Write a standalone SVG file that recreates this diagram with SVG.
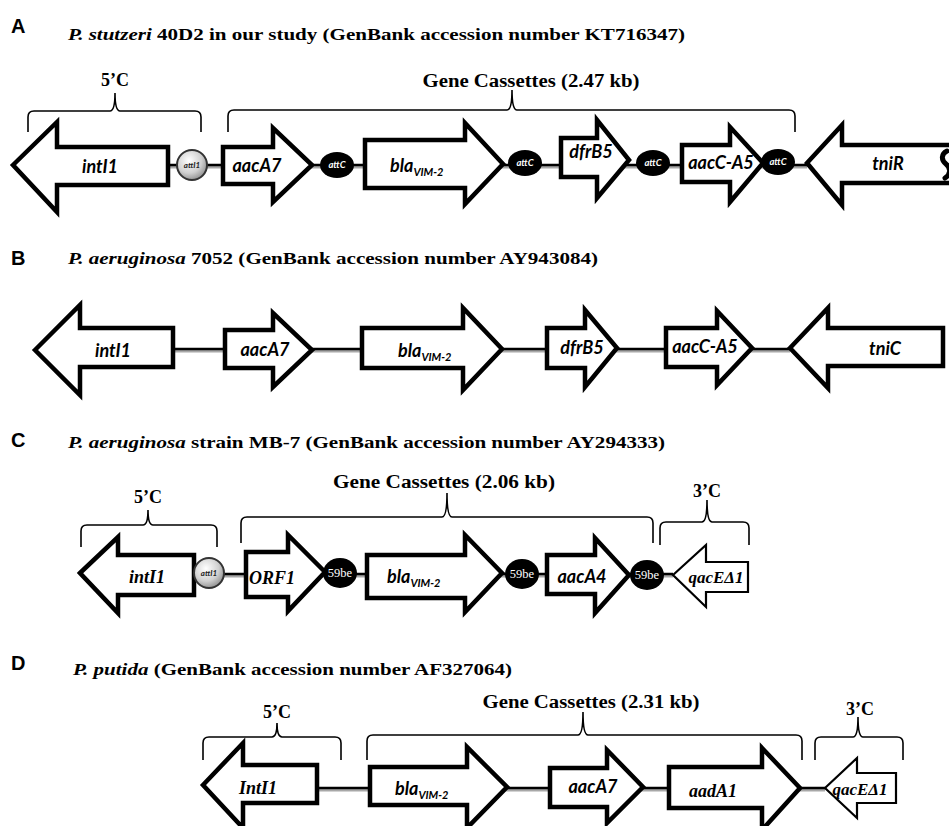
<svg xmlns="http://www.w3.org/2000/svg" width="949" height="826" viewBox="0 0 949 826">
<defs>
<radialGradient id="gAtt" cx="0.4" cy="0.35" r="0.7">
<stop offset="0" stop-color="#ffffff"/>
<stop offset="0.6" stop-color="#d0d0d0"/>
<stop offset="1" stop-color="#8a8a8a"/>
</radialGradient>
<style>
.gene{fill:#fff;stroke:#000;stroke-width:4.5;stroke-linejoin:miter;stroke-miterlimit:10}
.thin{stroke-width:2.2}
.lbl{font-family:Lato,"Open Sans",sans-serif;font-weight:bold;font-style:italic;font-size:18px;text-anchor:middle;fill:#000}
.lbs{font-family:Lato,"Open Sans",sans-serif;font-weight:bold;font-style:italic;font-size:18px;fill:#000}
.sub{font-size:11px}
.slbl{font-family:"Liberation Serif",serif;font-weight:bold;font-style:italic;font-size:18px;text-anchor:middle;fill:#000}
.qac{font-family:"Liberation Serif",serif;font-style:italic;font-weight:bold;font-size:17px;text-anchor:middle;fill:#000}
.title{font-family:"Liberation Serif",serif;font-weight:bold;font-size:17px;fill:#000}
.it{font-style:italic}
.panel{font-family:"Liberation Sans",Arial,sans-serif;font-weight:bold;font-size:20px;fill:#000}
.brace{fill:none;stroke:#000;stroke-width:1.6}
.btxt{font-family:"Liberation Serif",serif;font-weight:bold;font-size:18px;text-anchor:middle;fill:#000}
.bk{stroke:#000;stroke-width:2.5}
.bksh{stroke:#a8a8a8;stroke-width:3}
.attc{fill:#000}
.attct{font-family:Lato,"Open Sans",sans-serif;font-weight:bold;font-style:italic;font-size:9.5px;fill:#fff;text-anchor:middle}
.atti{fill:url(#gAtt);stroke:#333;stroke-width:2}
.attit{font-family:Lato,"Open Sans",sans-serif;font-weight:bold;font-style:italic;font-size:8px;fill:#222;text-anchor:middle}
.be{font-family:"Liberation Serif",serif;font-size:12.5px;fill:#fff;text-anchor:middle}
</style>
</defs>
<rect width="949" height="826" fill="#fff"/>

<!-- Panel letters and titles -->
<g id="panelA-title">
<text class="panel" x="11" y="33">A</text>
<text class="title" x="68" y="40" textLength="617" lengthAdjust="spacingAndGlyphs"><tspan class="it">P. stutzeri</tspan> 40D2 in our study (GenBank accession number KT716347)</text>
</g>
<g id="panelB-title">
<text class="panel" x="11" y="265">B</text>
<text class="title" x="68" y="264" textLength="530" lengthAdjust="spacingAndGlyphs"><tspan class="it">P. aeruginosa</tspan> 7052 (GenBank accession number AY943084)</text>
</g>
<g id="panelC-title">
<text class="panel" x="11" y="447">C</text>
<text class="title" x="68" y="448" textLength="597" lengthAdjust="spacingAndGlyphs"><tspan class="it">P. aeruginosa</tspan> strain MB-7 (GenBank accession number AY294333)</text>
</g>
<g id="panelD-title">
<text class="panel" x="11" y="670">D</text>
<text class="title" x="73" y="675" textLength="439" lengthAdjust="spacingAndGlyphs"><tspan class="it">P. putida</tspan> (GenBank accession number AF327064)</text>
</g>

<!-- Connectors (backbone lines) -->
<g id="connectors">
<line class="bksh" x1="168" y1="167" x2="807" y2="167"/>
<line class="bk" x1="168" y1="165" x2="807" y2="165"/>
<line class="bksh" x1="173" y1="351" x2="790" y2="351"/>
<line class="bk" x1="173" y1="349" x2="790" y2="349"/>
<line class="bksh" x1="194" y1="576" x2="673" y2="576"/>
<line class="bk" x1="194" y1="574" x2="673" y2="574"/>
<line class="bksh" x1="317" y1="790" x2="825" y2="790"/>
<line class="bk" x1="317" y1="788" x2="825" y2="788"/>
</g>

<!-- Braces -->
<g id="braceA-5C">
<path class="brace" d="M28,132 L28,117 Q28,111 34,111 L110,111 Q115,111 115,93 Q115,111 120,111 L195,111 Q201,111 201,117 L201,132"/>
<text class="btxt" x="115" y="86">5’C</text>
</g>
<g id="braceA-GC">
<path class="brace" d="M228,132 L228,116 Q228,110 234,110 L507,110 Q512,110 512,90 Q512,110 517,110 L789,110 Q795,110 795,116 L795,132"/>
<text class="btxt" x="531" y="87" textLength="217" lengthAdjust="spacingAndGlyphs">Gene Cassettes (2.47 kb)</text>
</g>
<g id="braceC-5C">
<path class="brace" d="M81,547 L81,531 Q81,525 87,525 L143,525 Q148,525 148,510 Q148,525 153,525 L211,525 Q217,525 217,531 L217,547"/>
<text class="btxt" x="148" y="503">5’C</text>
</g>
<g id="braceC-GC">
<path class="brace" d="M241,543 L241,523 Q241,517 247,517 L442,517 Q447,517 447,493 Q447,517 452,517 L647,517 Q653,517 653,523 L653,543"/>
<text class="btxt" x="444" y="488" textLength="222" lengthAdjust="spacingAndGlyphs">Gene Cassettes (2.06 kb)</text>
</g>
<g id="braceC-3C">
<path class="brace" d="M660,545 L660,528 Q660,522 666,522 L702,522 Q707,522 707,500 Q707,522 712,522 L743,522 Q749,522 749,528 L749,545"/>
<text class="btxt" x="707" y="497">3’C</text>
</g>
<g id="braceD-5C">
<path class="brace" d="M203,760 L203,743 Q203,737 209,737 L272,737 Q277,737 277,723 Q277,737 282,737 L335,737 Q341,737 341,743 L341,760"/>
<text class="btxt" x="277" y="718">5’C</text>
</g>
<g id="braceD-GC">
<path class="brace" d="M367,760 L367,741 Q367,735 373,735 L578,735 Q583,735 583,712 Q583,735 588,735 L796,735 Q802,735 802,741 L802,760"/>
<text class="btxt" x="591" y="708" textLength="217" lengthAdjust="spacingAndGlyphs">Gene Cassettes (2.31 kb)</text>
</g>
<g id="braceD-3C">
<path class="brace" d="M815,760 L815,743 Q815,737 821,737 L853,737 Q858,737 858,717 Q858,737 863,737 L897,737 Q903,737 903,743 L903,760"/>
<text class="btxt" x="860" y="715">3’C</text>
</g>

<!-- Panel A genes -->
<g id="A-intI1">
<polygon class="gene" points="13,165 57,122 57,147 168,147 168,185 57,185 57,212"/>
<text class="lbl" x="100" y="173">intI1</text>
</g>
<g id="A-attI1">
<circle class="atti" cx="192" cy="165" r="15"/>
<text class="attit" x="192" y="168">attI1</text>
</g>
<g id="A-aacA7">
<polygon class="gene" points="223,147 273,147 273,128 312,165 273,202 273,184 223,184"/>
<text class="lbl" x="257" y="172">aacA7</text>
</g>
<g id="A-attC1">
<ellipse class="attc" cx="337" cy="165" rx="17" ry="13"/>
<text class="attct" x="337" y="168">attC</text>
</g>
<g id="A-bla">
<polygon class="gene" points="365,140 465,140 465,123 503,164 465,204 465,188 365,188"/>
<text class="lbs" x="390" y="172">bla<tspan class="sub" dy="4">VIM-2</tspan></text>
</g>
<g id="A-attC2">
<ellipse class="attc" cx="525" cy="163" rx="17" ry="13"/>
<text class="attct" x="525" y="166">attC</text>
</g>
<g id="A-dfrB5">
<polygon class="gene" points="561,138 597,138 597,120 629,160 597,198 597,177 561,177"/>
<text class="lbl" x="591" y="158">dfrB5</text>
</g>
<g id="A-attC3">
<ellipse class="attc" cx="653" cy="163" rx="17" ry="13"/>
<text class="attct" x="653" y="166">attC</text>
</g>
<g id="A-aacC-A5">
<polygon class="gene" points="682,145 730,145 730,127 763,163 730,202 730,182 682,182"/>
<text class="lbl" x="721" y="169" font-size="17">aacC-A5</text>
</g>
<g id="A-attC4">
<ellipse class="attc" cx="778" cy="162" rx="17" ry="13"/>
<text class="attct" x="778" y="165">attC</text>
</g>
<g id="A-tniR">
<polygon class="gene" points="807,163 842,125 842,145 962,145 962,183 842,183 842,205"/>
<text class="lbl" x="888" y="170">tniR</text>
<path d="M947,151 C941,154 941,160 946,164 C951,168 951,174 945,178" fill="none" stroke="#000" stroke-width="5" stroke-linecap="round"/>
</g>

<!-- Panel B genes -->
<g id="B-intI1">
<polygon class="gene" points="35,350 80,305 80,328 173,328 173,367 80,367 80,395"/>
<text class="lbl" x="113" y="357">intI1</text>
</g>
<g id="B-aacA7">
<polygon class="gene" points="225,330 273,330 273,313 312,350 273,387 273,368 225,368"/>
<text class="lbl" x="265" y="356">aacA7</text>
</g>
<g id="B-bla">
<polygon class="gene" points="362,328 463,328 463,308 502,349 463,390 463,368 362,368"/>
<text class="lbs" x="398" y="357">bla<tspan class="sub" dy="4">VIM-2</tspan></text>
</g>
<g id="B-dfrB5">
<polygon class="gene" points="547,328 585,328 585,310 617,348 585,387 585,368 547,368"/>
<text class="lbl" x="582" y="354">dfrB5</text>
</g>
<g id="B-aacC-A5">
<polygon class="gene" points="666,328 717,328 717,311 752,348 717,385 717,367 666,367"/>
<text class="lbl" x="705" y="353" font-size="17">aacC-A5</text>
</g>
<g id="B-tniC">
<polygon class="gene" points="790,348 828,308 828,328 943,328 943,366 828,366 828,388"/>
<text class="lbl" x="885" y="355">tniC</text>
</g>

<!-- Panel C genes -->
<g id="C-intI1">
<polygon class="gene" points="80,573 118,537 118,555 194,555 194,595 118,595 118,613"/>
<text class="slbl" x="147" y="583">intI1</text>
</g>
<g id="C-attI1">
<circle class="atti" cx="209" cy="573" r="15"/>
<text class="attit" x="209" y="576">attI1</text>
</g>
<g id="C-ORF1">
<polygon class="gene" points="246,552 288,552 288,535 325,572 288,611 288,597 246,597"/>
<text class="slbl" x="272" y="584">ORF1</text>
</g>
<g id="C-59be1">
<ellipse class="attc" cx="340" cy="573" rx="17" ry="15"/>
<text class="be" x="340" y="577">59be</text>
</g>
<g id="C-bla">
<polygon class="gene" points="367,555 465,555 465,535 502,573 465,612 465,598 367,598"/>
<text class="lbs" x="387" y="583">bla<tspan class="sub" dy="4">VIM-2</tspan></text>
</g>
<g id="C-59be2">
<ellipse class="attc" cx="522" cy="574" rx="17" ry="15"/>
<text class="be" x="522" y="578">59be</text>
</g>
<g id="C-aacA4">
<polygon class="gene" points="547,555 595,555 595,538 629,575 595,613 595,594 547,594"/>
<text class="lbl" x="582" y="583">aacA4</text>
</g>
<g id="C-59be3">
<ellipse class="attc" cx="647" cy="575" rx="17" ry="15"/>
<text class="be" x="647" y="579">59be</text>
</g>
<g id="C-qacE">
<polygon class="gene thin" points="673,575 706,545 706,562 748,562 748,592 706,592 706,607"/>
<text class="qac" x="716" y="583">qacEΔ1</text>
</g>

<!-- Panel D genes -->
<g id="D-IntI1">
<polygon class="gene" points="203,785 243,743 243,765 317,765 317,803 243,803 243,828"/>
<text class="slbl" x="258" y="794">IntI1</text>
</g>
<g id="D-bla">
<polygon class="gene" points="370,767 467,767 467,747 507,787 467,828 467,805 370,805"/>
<text class="lbs" x="395" y="795">bla<tspan class="sub" dy="4">VIM-2</tspan></text>
</g>
<g id="D-aacA7">
<polygon class="gene" points="550,768 607,768 607,750 643,787 607,823 607,807 550,807"/>
<text class="lbl" x="593" y="793">aacA7</text>
</g>
<g id="D-aadA1">
<polygon class="gene" points="669,767 762,767 762,748 800,788 762,830 762,808 669,808"/>
<text class="slbl" x="713" y="797">aadA1</text>
</g>
<g id="D-qacE">
<polygon class="gene thin" points="825,788 857,758 857,773 896,773 896,803 857,803 857,818"/>
<text class="qac" x="860" y="795" font-size="18">qacEΔ1</text>
</g>
</svg>
